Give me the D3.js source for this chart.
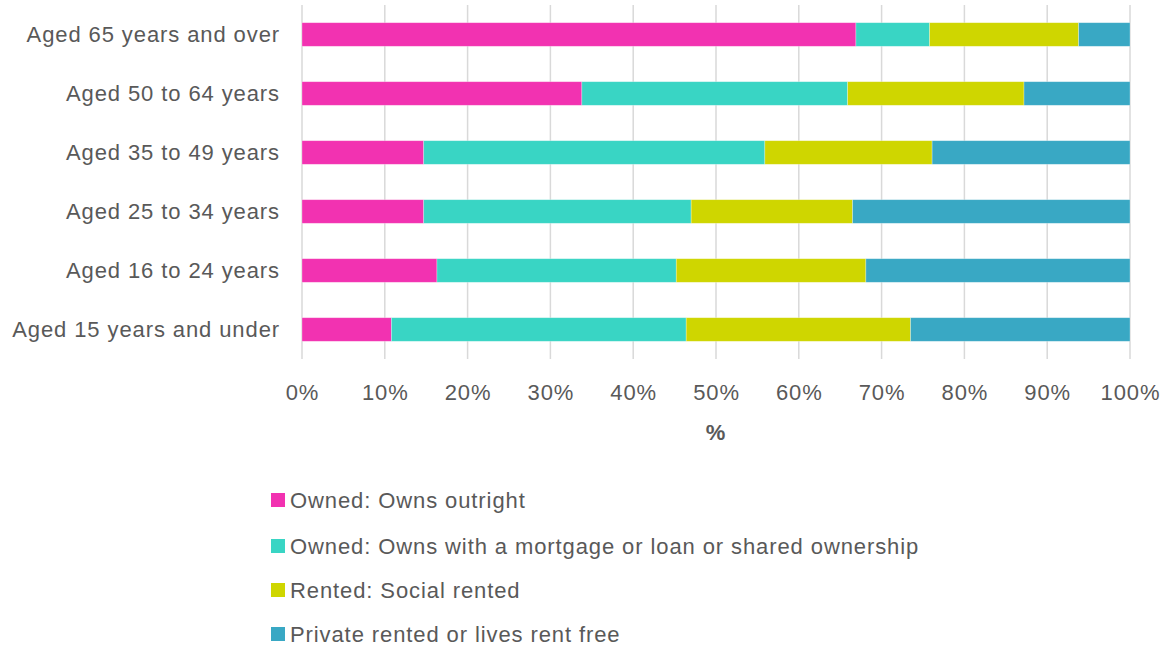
<!DOCTYPE html>
<html>
<head>
<meta charset="utf-8">
<script src="https://cdn.jsdelivr.net/npm/d3@7"></script>
<style>
  body { margin: 0; background: #fff; }
  svg { display: block; font-family: "Liberation Sans", Arial, sans-serif; }
  svg text { letter-spacing: 0.9px; }
</style>
</head>
<body>
<div id="chart"></div>
<script>
// Age groups, top to bottom
const ageGroups = [
    "Aged 65 years and over",
    "Aged 50 to 64 years",
    "Aged 35 to 49 years",
    "Aged 25 to 34 years",
    "Aged 16 to 24 years",
    "Aged 15 years and under"
];

// Tenure categories (stack order, left to right)
const tenures = [
    "Owned: Owns outright",
    "Owned: Owns with a mortgage or loan or shared ownership",
    "Rented: Social rented",
    "Private rented or lives rent free"
];

// Percentages per age group, one array per tenure
const ownsOutright   = [66.9, 33.8, 14.7, 14.7, 16.3, 10.8];
const ownsMortgage   = [8.9, 32.1, 41.2, 32.3, 28.9, 35.6];
const socialRented   = [18.0, 21.3, 20.2, 19.5, 22.9, 27.1];
const privateRented  = [6.2, 12.8, 23.9, 33.5, 31.9, 26.5];

const tickValues = [0, 10, 20, 30, 40, 50, 60, 70, 80, 90, 100];

const colors = ["#f232b1", "#39d5c4", "#cfd600", "#39a8c4"];

const width = 1170, height = 648;
const textColor = "#595959";
const fontSize = "22px";

const svg = d3.select("#chart").append("svg")
    .attr("width", width)
    .attr("height", height);

// Build rows for stacking
const rows = ageGroups.map((g, i) => ({
    group: g,
    [tenures[0]]: ownsOutright[i],
    [tenures[1]]: ownsMortgage[i],
    [tenures[2]]: socialRented[i],
    [tenures[3]]: privateRented[i]
}));

const series = d3.stack().keys(tenures)(rows);

const x = d3.scaleLinear().domain([0, 100]).range([302, 1130]);
const y = d3.scaleBand()
    .domain(ageGroups)
    .range([5, 359])
    .paddingInner(0.6)
    .paddingOuter(0.3);

const color = d3.scaleOrdinal().domain(tenures).range(colors);

// Gridlines (with tick marks running below the bars)
svg.append("g")
    .selectAll("line")
    .data(tickValues)
    .join("line")
    .attr("x1", d => x(d))
    .attr("x2", d => x(d))
    .attr("y1", 5)
    .attr("y2", 359)
    .attr("stroke", "#d9d9d9")
    .attr("stroke-width", 1.5);

// Bars
svg.append("g")
    .selectAll("g")
    .data(series)
    .join("g")
    .attr("fill", d => color(d.key))
    .selectAll("rect")
    .data(d => d)
    .join("rect")
    .attr("x", d => x(d[0]))
    .attr("width", d => x(d[1]) - x(d[0]))
    .attr("y", d => y(d.data.group))
    .attr("height", y.bandwidth())
    .attr("stroke", "#ffffff")
    .attr("stroke-opacity", 0.4)
    .attr("stroke-width", 0.7);

// Category labels
svg.append("g")
    .selectAll("text")
    .data(ageGroups)
    .join("text")
    .attr("x", 280)
    .attr("y", d => y(d) + y.bandwidth() / 2)
    .attr("dy", "0.35em")
    .attr("text-anchor", "end")
    .attr("fill", textColor)
    .style("font-size", fontSize)
    .text(d => d);

// X tick labels
svg.append("g")
    .selectAll("text")
    .data(tickValues)
    .join("text")
    .attr("x", d => x(d) + 0.5)
    .attr("y", 392)
    .attr("dy", "0.35em")
    .attr("text-anchor", "middle")
    .attr("fill", textColor)
    .style("font-size", fontSize)
    .text(d => d + "%");

// Axis title
svg.append("text")
    .attr("x", 716)
    .attr("y", 432)
    .attr("dy", "0.35em")
    .attr("text-anchor", "middle")
    .attr("fill", textColor)
    .style("font-size", fontSize)
    .style("font-weight", "bold")
    .text("%");

// Legend
const legendY = [500, 546, 590, 634];
const legend = svg.append("g")
    .selectAll("g")
    .data(tenures)
    .join("g")
    .attr("transform", (d, i) => `translate(271, ${legendY[i]})`);

legend.append("rect")
    .attr("x", 0)
    .attr("y", -7)
    .attr("width", 14)
    .attr("height", 14)
    .attr("fill", d => color(d));

legend.append("text")
    .attr("x", 19)
    .attr("y", 0)
    .attr("dy", "0.35em")
    .attr("fill", textColor)
    .style("font-size", fontSize)
    .text(d => d);
</script>
</body>
</html>
